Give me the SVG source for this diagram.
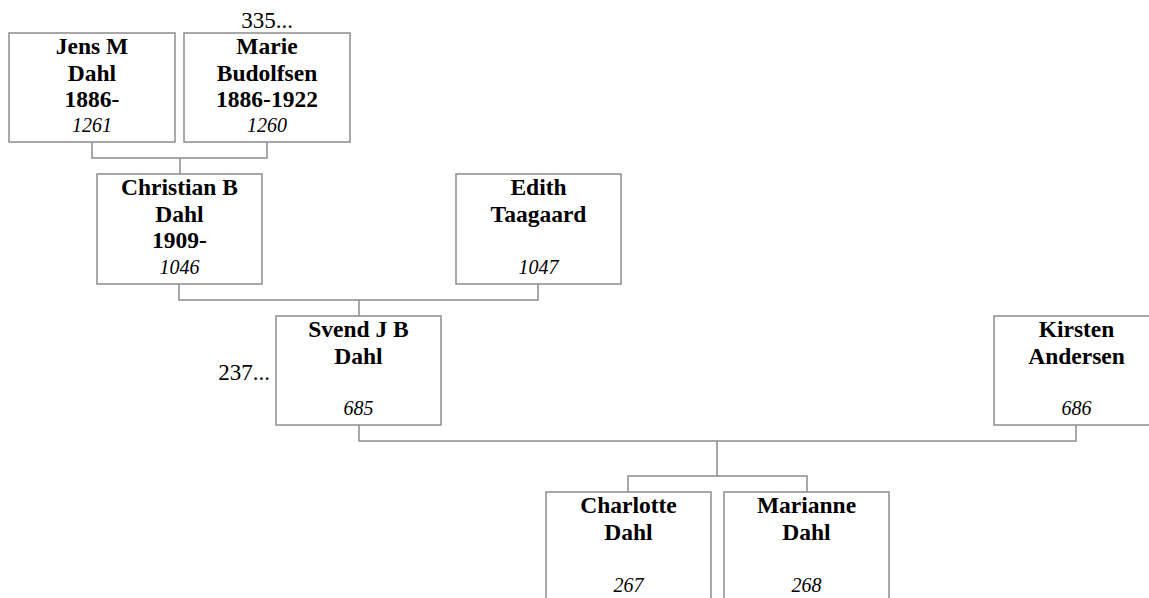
<svg xmlns="http://www.w3.org/2000/svg" width="1149" height="598" viewBox="0 0 1149 598">
<style>
.box{fill:#fff;stroke:#8c8c8c;stroke-width:1.5}
.nm{font-family:"Liberation Serif","Times New Roman",serif;font-weight:bold;font-size:23.5px;text-anchor:middle;fill:#000}
.id{font-family:"Liberation Serif","Times New Roman",serif;font-style:italic;font-size:20px;text-anchor:middle;fill:#000}
.lbl{font-family:"Liberation Serif","Times New Roman",serif;font-size:23px;fill:#000}
.con{fill:none;stroke:#8c8c8c;stroke-width:1.5}
</style>
<rect width="1149" height="598" fill="#fff"/>
<g id="connectors">
<path class="con" d="M92,142 V158 H267 V142 M180,158 V174"/>
<path class="con" d="M179,284 V300 H538 V284 M359,300 V316"/>
<path class="con" d="M359,425 V441 H1076 V425 M717,441 V476 M628,492 V476 H807 V492"/>
</g>
<g id="n1261">
<rect class="box" x="9" y="33" width="166" height="109"/>
<text class="nm" x="92" y="54">Jens M</text>
<text class="nm" x="92" y="80.5">Dahl</text>
<text class="nm" x="92" y="107">1886-</text>
<text class="id" x="92" y="132">1261</text>
</g>
<g id="n1260">
<rect class="box" x="184" y="33" width="166" height="109"/>
<text class="nm" x="267" y="54">Marie</text>
<text class="nm" x="267" y="80.5">Budolfsen</text>
<text class="nm" x="267" y="107">1886-1922</text>
<text class="id" x="267" y="132">1260</text>
<text class="lbl" x="267" y="28" text-anchor="middle">335...</text>
</g>
<g id="n1046">
<rect class="box" x="97" y="174" width="165" height="110"/>
<text class="nm" x="179.5" y="195">Christian B</text>
<text class="nm" x="179.5" y="221.5">Dahl</text>
<text class="nm" x="179.5" y="248">1909-</text>
<text class="id" x="179.5" y="274">1046</text>
</g>
<g id="n1047">
<rect class="box" x="456" y="174" width="165" height="110"/>
<text class="nm" x="538.5" y="195">Edith</text>
<text class="nm" x="538.5" y="221.5">Taagaard</text>
<text class="id" x="538.5" y="274">1047</text>
</g>
<g id="n685">
<rect class="box" x="276" y="316" width="165" height="109"/>
<text class="nm" x="358.5" y="337">Svend J B</text>
<text class="nm" x="358.5" y="363.5">Dahl</text>
<text class="id" x="358.5" y="415">685</text>
<text class="lbl" x="270" y="380" text-anchor="end">237...</text>
</g>
<g id="n686">
<rect class="box" x="994" y="316" width="165" height="109"/>
<text class="nm" x="1076.5" y="337">Kirsten</text>
<text class="nm" x="1076.5" y="363.5">Andersen</text>
<text class="id" x="1076.5" y="415">686</text>
</g>
<g id="n267">
<rect class="box" x="546" y="492" width="165" height="120"/>
<text class="nm" x="628.5" y="513">Charlotte</text>
<text class="nm" x="628.5" y="539.5">Dahl</text>
<text class="id" x="628.5" y="592">267</text>
</g>
<g id="n268">
<rect class="box" x="724" y="492" width="165" height="120"/>
<text class="nm" x="806.5" y="513">Marianne</text>
<text class="nm" x="806.5" y="539.5">Dahl</text>
<text class="id" x="806.5" y="592">268</text>
</g>
</svg>
